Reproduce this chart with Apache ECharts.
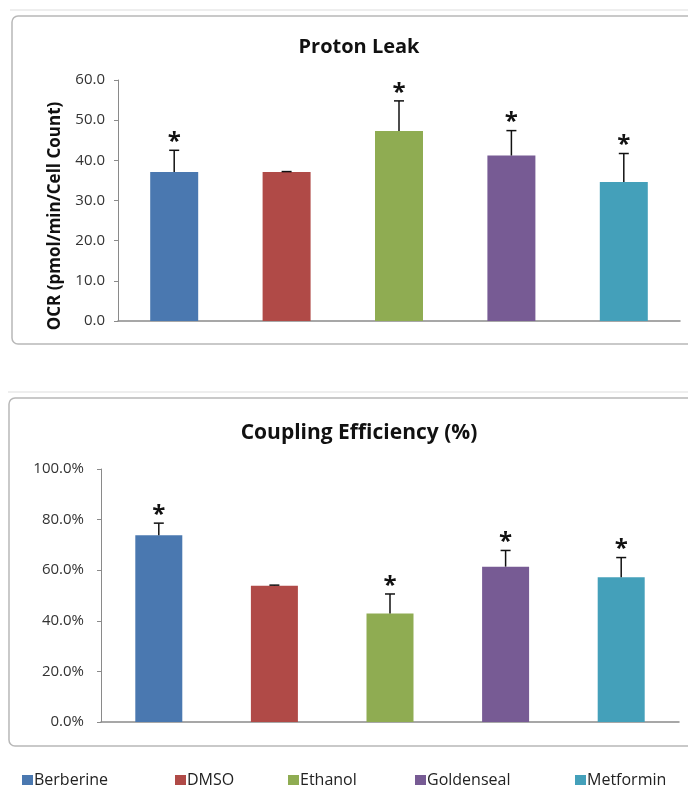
<!DOCTYPE html>
<html><head><meta charset="utf-8">
<script src="https://cdn.jsdelivr.net/npm/echarts@6/dist/echarts.min.js"></script>
<style>html,body{margin:0;padding:0;background:#fff}#c{width:688px;height:787px}</style>
</head><body><div id="c"></div>
<script>
const categories = ['Berberine','DMSO','Ethanol','Goldenseal','Metformin'];
const colors = ['#4a78b0','#b04a47','#8fac52','#775b94','#44a0ba'];
const leakMean = [37.1, 37.1, 47.3, 41.2, 34.6];
const leakUpper = [42.5, 37.2, 54.8, 47.4, 41.7];
const leakSig = [1, 0, 1, 1, 1];
const coupMean = [73.8, 53.9, 42.9, 61.4, 57.2];
const coupUpper = [78.6, 54.1, 50.6, 67.8, 65.0];
const coupSig = [1, 0, 1, 1, 1];
const leakTicks = [0, 60, 10];
const coupTicks = [0, 100, 20];

const font = '"Open Sans", "Noto Sans", sans-serif';
const chart = echarts.init(document.getElementById('c'));

function barSeries(vals, gi, width) {
  return categories.map((name, i) => ({
    type: 'bar', name, xAxisIndex: gi, yAxisIndex: gi,
    barWidth: width, barGap: '-100%',
    itemStyle: { color: colors[i] },
    data: vals.map((v, j) => j === i ? v : '-'),
    silent: true
  }));
}
function errSeries(mean, upper, sig, gi) {
  return {
    type: 'custom', xAxisIndex: gi, yAxisIndex: gi, silent: true, z: 5,
    data: mean.map((m, i) => [i, m, upper[i], sig[i]]),
    renderItem: function (params, api) {
      const p0 = api.coord([api.value(0), api.value(1)]);
      const p1 = api.coord([api.value(0), api.value(2)]);
      const ch = [
        { type: 'line', shape: { x1: p0[0], y1: p0[1], x2: p1[0], y2: p1[1] }, style: { stroke: '#111', lineWidth: 1.5 } },
        { type: 'line', shape: { x1: p1[0] - 5, y1: p1[1], x2: p1[0] + 5, y2: p1[1] }, style: { stroke: '#111', lineWidth: 1.5 } }
      ];
      if (api.value(3)) {
        ch.push({ type: 'text', style: { text: '*', x: p1[0], y: p1[1] + 4, textAlign: 'center', textVerticalAlign: 'bottom', font: 'bold 24px ' + font, fill: '#111' } });
      }
      return { type: 'group', children: ch };
    }
  };
}

const legends = categories.map((name, i) => ({
  data: [name], left: [22, 175, 288, 415, 575][i], top: 772,
  icon: 'rect', itemWidth: 11, itemHeight: 10, itemGap: 4, padding: 0,
  textStyle: { fontFamily: font, fontSize: 16, color: '#222', padding: [0, 0, 0, -4] }
}));

const yLabel = { fontFamily: font, fontSize: 15, color: '#333' };

chart.setOption({
  animation: false,
  graphic: [
    { type: 'line', shape: { x1: 10, y1: 10, x2: 688, y2: 10 }, style: { stroke: '#dddddd', lineWidth: 1 } },
    { type: 'rect', shape: { x: 12, y: 16, width: 700, height: 328, r: 6 }, style: { fill: 'none', stroke: '#b8b8b8', lineWidth: 1.5 } },
    { type: 'line', shape: { x1: 8, y1: 392, x2: 688, y2: 392 }, style: { stroke: '#dddddd', lineWidth: 1 } },
    { type: 'rect', shape: { x: 9, y: 398, width: 700, height: 348, r: 6 }, style: { fill: 'none', stroke: '#b8b8b8', lineWidth: 1.5 } },
    { type: 'text', x: 55, y: 216, rotation: Math.PI / 2,
      style: { text: 'OCR (pmol/min/Cell Count)', textAlign: 'center', textVerticalAlign: 'middle', font: 'bold 17px ' + font, fill: '#111' } }
  ],
  title: [
    { text: 'Proton Leak', left: 354, top: 32, textAlign: 'center', textStyle: { fontFamily: font, fontSize: 20, fontWeight: 'bold', color: '#111' } },
    { text: 'Coupling Efficiency (%)', left: 354, top: 418, textAlign: 'center', textStyle: { fontFamily: font, fontSize: 21, fontWeight: 'bold', color: '#111' } }
  ],
  legend: legends,
  grid: [
    { left: 118, width: 562, top: 80, height: 241 },
    { left: 101, width: 578, top: 469, height: 253 }
  ],
  xAxis: [0, 1].map(gi => ({
    type: 'category', gridIndex: gi, data: categories,
    axisLine: { lineStyle: { color: '#8a8a8a', width: 1.5 } },
    axisTick: { show: false }, axisLabel: { show: false }
  })),
  yAxis: [
    { type: 'value', gridIndex: 0, min: leakTicks[0], max: leakTicks[1], interval: leakTicks[2],
      axisLine: { show: true, lineStyle: { color: '#8a8a8a' } },
      axisTick: { show: true, length: 4, lineStyle: { color: '#8a8a8a' } },
      splitLine: { show: false },
      axisLabel: Object.assign({ formatter: v => v.toFixed(1), margin: 13 }, yLabel) },
    { type: 'value', gridIndex: 1, min: coupTicks[0], max: coupTicks[1], interval: coupTicks[2],
      axisLine: { show: true, lineStyle: { color: '#8a8a8a' } },
      axisTick: { show: true, length: 4, lineStyle: { color: '#8a8a8a' } },
      splitLine: { show: false },
      axisLabel: Object.assign({ formatter: v => v.toFixed(1) + '%', margin: 17 }, yLabel) }
  ],
  series: [].concat(
    barSeries(leakMean, 0, 48),
    barSeries(coupMean, 1, 47),
    [errSeries(leakMean, leakUpper, leakSig, 0), errSeries(coupMean, coupUpper, coupSig, 1)]
  )
});
</script></body></html>
